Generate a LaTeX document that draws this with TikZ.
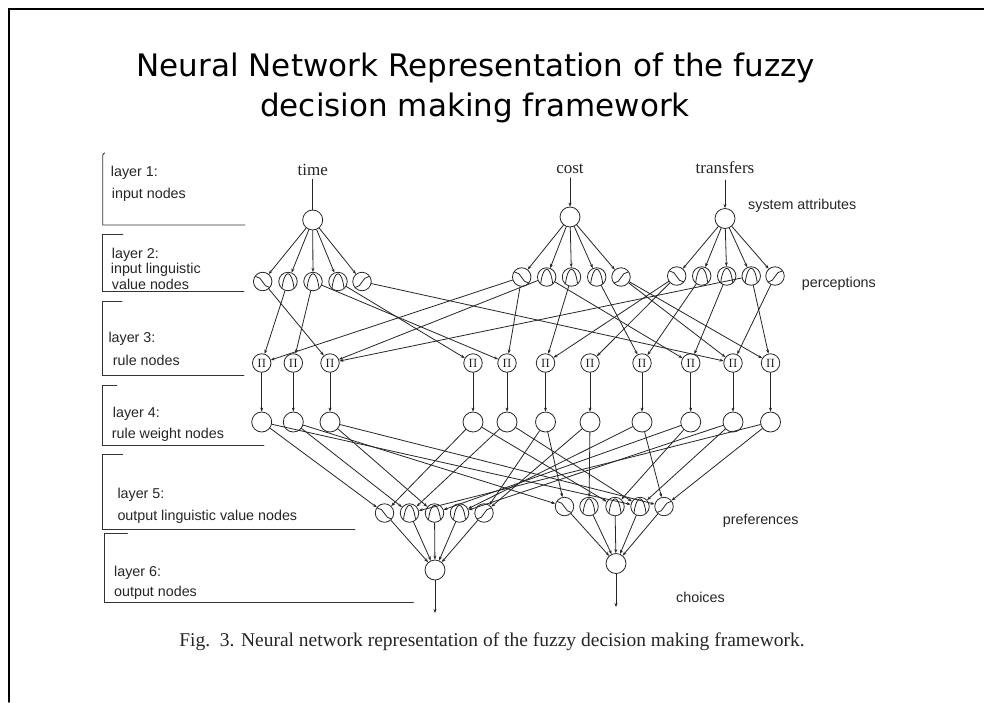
\documentclass[tikz,border=0pt]{standalone}
\usepackage{fontspec}
\setmainfont{Liberation Serif}
\newfontfamily\titlefont{DejaVu Sans}
\newfontfamily\lblfont{Liberation Sans}
\usetikzlibrary{arrows.meta}
\newcommand\gdec[1]{\draw[glyph] ([shift={(-7,-5)}]#1.center) .. controls ([shift={(0,-5)}]#1.center) and ([shift={(0,6)}]#1.center) .. ([shift={(7,6)}]#1.center);}
\newcommand\ghump[1]{\draw[glyph] ([shift={(-6,6.5)}]#1.center) .. controls ([shift={(-3.5,-12.5)}]#1.center) and ([shift={(3.5,-12.5)}]#1.center) .. ([shift={(6,6.5)}]#1.center);}
\newcommand\gasc[1]{\draw[glyph] ([shift={(-7,6)}]#1.center) .. controls ([shift={(0,6)}]#1.center) and ([shift={(0,-5)}]#1.center) .. ([shift={(7,-5)}]#1.center);}
\tikzset{
  ln/.style={line width=0.8pt, draw=black!85},
  arr/.style={ln, -{Stealth[length=4pt,width=3pt]}},
  nd/.style={circle, draw=black!85, line width=0.8pt, minimum size=18.5pt, inner sep=0pt},
  bignd/.style={nd, minimum size=20pt},
  glyph/.style={line width=0.8pt, draw=black!85},
  lbl/.style={font=\lblfont\fontsize{14.3}{16}\selectfont, anchor=west, inner sep=0pt, text=black!85},
  ser/.style={font=\fontsize{17}{20}\selectfont, inner sep=1.5pt, text=black!85},
  brk/.style={line width=0.9pt, draw=black!80},
  pinode/.style={nd, font=\fontsize{13}{13}\selectfont},
}
\begin{document}
\begin{tikzpicture}[x=1pt,y=-1pt,line cap=round]
\useasboundingbox (0,0) rectangle (984,702);
\fill[white] (0,0) rectangle (984,702);
\draw[line width=1.5pt] (9,702) -- (9,9) -- (984,9);

% title
\node[font=\titlefont\fontsize{31}{36}\selectfont] (title1) at (476,68) {Neural Network Representation of the fuzzy};
\node[font=\titlefont\fontsize{31}{36}\selectfont] (title2) at (475,108) {decision making framework};

% layer brackets
\draw[brk] (104.5,153) -- (102.7,155) -- (102.7,225) -- (245,225);
\draw[brk] (123,234) -- (102.7,234) -- (102.7,291) -- (244,291);
\draw[brk] (122,301) -- (102.7,301) -- (102.7,375) -- (244,375);
\draw[brk] (116.7,385) -- (102.7,385) -- (102.7,445) -- (264,445);
\draw[brk] (122.7,454) -- (102.7,454) -- (102.7,529) -- (355,529);
\draw[brk] (127.3,533.3) -- (104,533.3) -- (104,602.7) -- (413.3,602.7);

% layer labels
\node[lbl] (l1a) at (110.7,173) {layer 1:};
\node[lbl] (l1b) at (111.7,195) {input nodes};
\node[lbl] (l2a) at (111.7,255) {layer 2:};
\node[lbl] (l2b) at (110.7,270) {input linguistic};
\node[lbl] (l2c) at (111.7,284) {value nodes};
\node[lbl] (l3a) at (108.3,339) {layer 3:};
\node[lbl] (l3b) at (112.7,360) {rule nodes};
\node[lbl] (l4a) at (112.7,413.3) {layer 4:};
\node[lbl] (l4b) at (111.7,434.3) {rule weight nodes};
\node[lbl] (l5a) at (117.3,495) {layer 5:};
\node[lbl] (l5b) at (117.3,516.7) {output linguistic value nodes};
\node[lbl] (l6a) at (114,572.7) {layer 6:};
\node[lbl] (l6b) at (114,592.7) {output nodes};

\node[lbl] (sa) at (748,205.7) {system attributes};
\node[lbl] (pc) at (801.7,284) {perceptions};
\node[lbl] (pf) at (722.7,521) {preferences};
\node[lbl] (ch) at (676,597.3) {choices};

% inputs
\node[ser] (ttime) at (312.7,170) {time};
\node[ser] (tcost) at (570,168.3) {cost};
\node[ser] (ttrans) at (725,167.3) {transfers};

% layer 1
\node[bignd] (ti) at (312.7,220) {};
\node[bignd] (co) at (570,217) {};
\node[bignd] (tr) at (725,218.5) {};
\draw[ln, shorten <=2pt] (ttime) -- (ti);
\draw[arr, shorten <=3pt] (tcost) -- (co);
\draw[arr, shorten <=5pt] (ttrans) -- (tr);

% layer 2
\foreach \i/\x in {1/262.7,2/288,3/313,4/338,5/362} \node[nd] (a\i) at (\x,281.5) {};
\foreach \i/\x in {1/521.7,2/546.7,3/571.5,4/596.7,5/621} \node[nd] (b\i) at (\x,277) {};
\foreach \i/\x in {1/676.7,2/701.7,3/726.7,4/751.2,5/775} \node[nd] (c\i) at (\x,276) {};
\gdec{a1} \ghump{a2} \ghump{a3} \ghump{a4} \gasc{a5}
\gdec{b1} \ghump{b2} \ghump{b3} \ghump{b4} \gasc{b5}
\gdec{c1} \ghump{c2} \ghump{c3} \ghump{c4} \gasc{c5}

% layer 3 and 4
\foreach \i/\x in {1/261.7,2/293.3,3/330,4/473,5/507,6/545.5,7/590,8/642,9/690.7,10/733,11/770.5}{
  \node[pinode] (p\i) at (\x,363) {$\Pi$};
  \node[bignd] (w\i) at (\x,422) {};
  \draw[arr] (p\i) -- (w\i);
}

% layer 5
\foreach \i/\x in {1/384.5,2/409.5,3/434.5,4/459.5,5/484} \node[nd] (o\i) at (\x,513) {};
\foreach \i/\x in {1/564.5,2/589,3/615,4/640,5/664} \node[nd] (q\i) at (\x,506.5) {};
\gdec{o1} \ghump{o2} \ghump{o3} \ghump{o4} \gasc{o5}
\gdec{q1} \ghump{q2} \ghump{q3} \ghump{q4} \gasc{q5}

% layer 6
\node[bignd] (y1) at (435,570) {};
\node[bignd] (y2) at (616,563.5) {};
\coordinate (e1) at (435,613);
\coordinate (e2) at (616,607);
\draw[arr] (y1) -- (e1);
\draw[arr] (y2) -- (e2);

% layer 1 -> 2
\foreach \i in {1,...,5}{
  \draw[arr] (ti) -- (a\i);
  \draw[arr] (co) -- (b\i);
  \draw[arr] (tr) -- (c\i);
}

% layer 2 -> 3
\foreach \s/\t in {a1/p3,a2/p1,a3/p2,a3/p5,a4/p4,a5/p10,
  b1/p1,b1/p5,b2/p3,b2/p9,b3/p6,b4/p8,b5/p10,b5/p11,
  c1/p6,c1/p7,c2/p8,c3/p9,c4/p3,c4/p11,c5/p10}
  \draw[arr] (\s) -- (\t);

% layer 4 -> 5
\foreach \s/\t in {w1/o1,w1/q4,w2/o2,w2/q1,w3/o3,w3/q5,w4/o1,w4/q3,w5/o2,w5/q4,
  w6/o5,w6/q1,w7/o5,w7/q2,w8/o4,w8/q5,w9/o3,w9/q3,w10/o4,w10/q4,w11/o2,w11/q5}
  \draw[arr] (\s) -- (\t);

% layer 5 -> 6
\foreach \i in {1,...,5}{
  \draw[arr] (o\i) -- (y1);
  \draw[arr] (q\i) -- (y2);
}

% caption
\node[font=\fontsize{19.5}{22}\selectfont, text=black!85] (cap) at (492,642) {Fig.\enspace 3. Neural network representation of the fuzzy decision making framework.};
\end{tikzpicture}
\end{document}
